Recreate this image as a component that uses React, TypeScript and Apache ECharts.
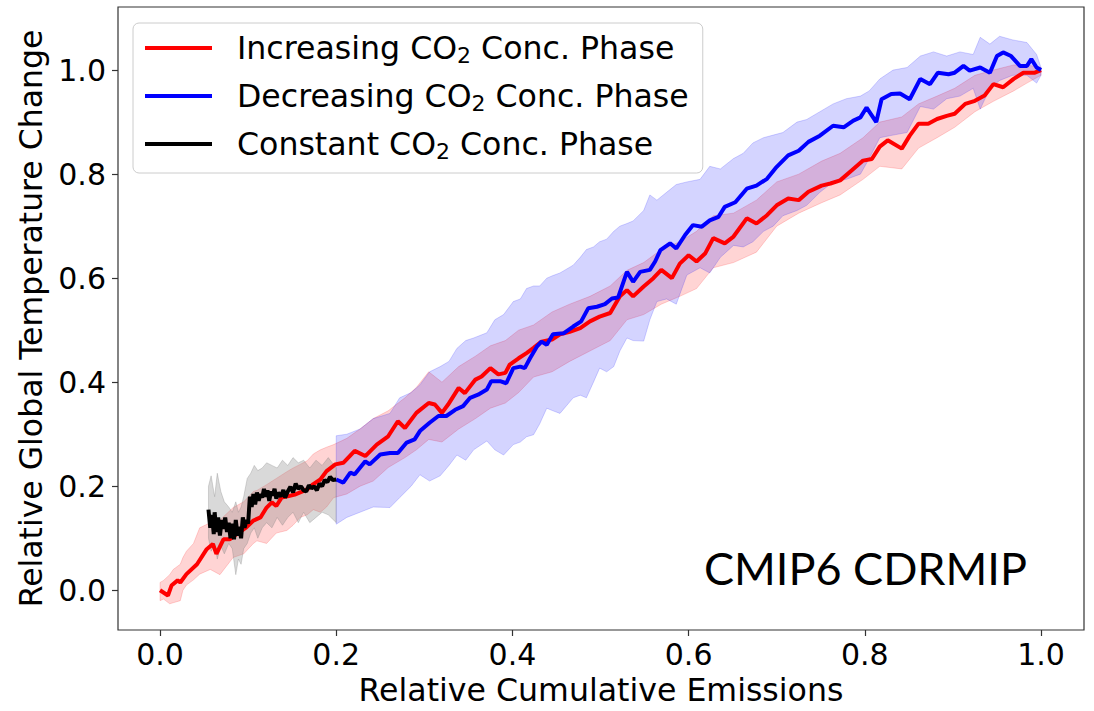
import React, { useEffect, useRef } from "react";
import * as echarts from "echarts";

// ---- data (x = relative cumulative emissions, y = relative temperature change) ----
const increasing: [number, number][] = [
  [0.000, 0.000], [0.009, -0.010], [0.013, 0.009], [0.020, 0.019], [0.023, 0.015], [0.030, 0.031],
  [0.042, 0.050], [0.053, 0.079], [0.060, 0.089], [0.064, 0.070], [0.072, 0.098], [0.079, 0.098],
  [0.087, 0.108], [0.098, 0.121], [0.106, 0.134], [0.114, 0.140], [0.121, 0.159], [0.127, 0.169],
  [0.132, 0.162], [0.138, 0.178], [0.146, 0.181], [0.153, 0.184], [0.159, 0.188], [0.167, 0.194],
  [0.174, 0.204], [0.182, 0.213], [0.189, 0.229], [0.199, 0.242], [0.208, 0.245], [0.221, 0.268],
  [0.233, 0.258], [0.246, 0.280], [0.259, 0.296], [0.270, 0.325], [0.278, 0.312], [0.291, 0.341],
  [0.305, 0.360], [0.312, 0.357], [0.320, 0.341], [0.327, 0.357], [0.339, 0.389], [0.346, 0.379],
  [0.358, 0.405], [0.365, 0.411], [0.375, 0.427], [0.384, 0.415], [0.392, 0.418], [0.397, 0.434],
  [0.407, 0.446], [0.416, 0.456], [0.424, 0.466], [0.433, 0.478], [0.445, 0.482], [0.454, 0.492],
  [0.465, 0.497], [0.477, 0.504], [0.488, 0.517], [0.499, 0.526], [0.511, 0.533], [0.522, 0.565],
  [0.530, 0.577], [0.537, 0.565], [0.549, 0.584], [0.560, 0.600], [0.569, 0.616], [0.581, 0.600],
  [0.590, 0.628], [0.600, 0.644], [0.609, 0.632], [0.619, 0.648], [0.628, 0.677], [0.641, 0.667],
  [0.651, 0.680], [0.666, 0.715], [0.677, 0.705], [0.689, 0.721], [0.700, 0.740], [0.713, 0.753],
  [0.725, 0.750], [0.736, 0.766], [0.751, 0.778], [0.761, 0.782], [0.772, 0.788], [0.785, 0.807],
  [0.798, 0.826], [0.808, 0.829], [0.817, 0.853], [0.826, 0.865], [0.842, 0.849], [0.851, 0.874],
  [0.861, 0.897], [0.872, 0.897], [0.882, 0.906], [0.893, 0.912], [0.902, 0.916], [0.914, 0.935],
  [0.925, 0.941], [0.936, 0.951], [0.946, 0.973], [0.957, 0.967], [0.969, 0.983], [0.980, 0.995],
  [0.993, 0.995], [1.000, 1.000],
];

const decreasing: [number, number][] = [
  [0.200, 0.213], [0.208, 0.207], [0.216, 0.226], [0.221, 0.223], [0.233, 0.248], [0.238, 0.242],
  [0.250, 0.261], [0.261, 0.264], [0.270, 0.264], [0.280, 0.284], [0.289, 0.290], [0.295, 0.306],
  [0.306, 0.322], [0.316, 0.335], [0.325, 0.335], [0.335, 0.347], [0.344, 0.354], [0.352, 0.370],
  [0.361, 0.376], [0.371, 0.386], [0.376, 0.402], [0.386, 0.402], [0.393, 0.398], [0.401, 0.427],
  [0.409, 0.430], [0.414, 0.427], [0.420, 0.446], [0.428, 0.469], [0.433, 0.478], [0.439, 0.472],
  [0.446, 0.492], [0.458, 0.494], [0.469, 0.507], [0.478, 0.517], [0.486, 0.542], [0.496, 0.545],
  [0.505, 0.550], [0.513, 0.561], [0.520, 0.563], [0.530, 0.612], [0.537, 0.593], [0.545, 0.612],
  [0.556, 0.616], [0.562, 0.632], [0.568, 0.654], [0.579, 0.667], [0.586, 0.657], [0.596, 0.683],
  [0.605, 0.702], [0.615, 0.699], [0.624, 0.711], [0.634, 0.718], [0.641, 0.737], [0.653, 0.746],
  [0.666, 0.772], [0.677, 0.778], [0.689, 0.791], [0.700, 0.814], [0.713, 0.836], [0.725, 0.845],
  [0.736, 0.862], [0.749, 0.874], [0.764, 0.893], [0.776, 0.890], [0.787, 0.903], [0.795, 0.909],
  [0.802, 0.928], [0.813, 0.900], [0.819, 0.944], [0.830, 0.954], [0.840, 0.955], [0.851, 0.944],
  [0.863, 0.983], [0.874, 0.973], [0.883, 0.995], [0.895, 0.992], [0.902, 0.995], [0.912, 1.008],
  [0.919, 0.999], [0.931, 1.005], [0.942, 0.995], [0.950, 1.027], [0.957, 1.034], [0.966, 1.027],
  [0.976, 1.008], [0.984, 1.008], [0.989, 1.021], [0.995, 1.005], [1.000, 1.000],
];

const constant: [number, number][] = [
  [0.055, 0.155], [0.057, 0.120], [0.059, 0.145], [0.061, 0.108], [0.062, 0.150], [0.064, 0.112],
  [0.066, 0.140], [0.068, 0.105], [0.070, 0.135], [0.072, 0.118], [0.074, 0.140], [0.076, 0.112],
  [0.078, 0.130], [0.080, 0.100], [0.082, 0.128], [0.084, 0.098], [0.086, 0.135], [0.088, 0.105],
  [0.090, 0.122], [0.092, 0.100], [0.094, 0.140], [0.096, 0.120], [0.098, 0.135], [0.100, 0.128],
  [0.102, 0.180], [0.104, 0.160], [0.106, 0.185], [0.108, 0.165], [0.110, 0.188], [0.112, 0.172],
  [0.114, 0.185], [0.116, 0.178], [0.118, 0.195], [0.120, 0.180], [0.122, 0.192], [0.124, 0.172],
  [0.126, 0.190], [0.128, 0.182], [0.130, 0.195], [0.132, 0.176], [0.134, 0.188], [0.137, 0.180],
  [0.140, 0.193], [0.142, 0.178], [0.145, 0.190], [0.148, 0.199], [0.151, 0.188], [0.154, 0.205],
  [0.157, 0.195], [0.160, 0.200], [0.163, 0.192], [0.166, 0.190], [0.169, 0.202], [0.172, 0.196],
  [0.175, 0.200], [0.178, 0.192], [0.181, 0.205], [0.184, 0.200], [0.187, 0.212], [0.190, 0.208],
  [0.193, 0.218], [0.196, 0.212], [0.200, 0.213],
];

// spread bands: [x, lower, upper]
const increasingBand: [number, number, number][] = [
  [0.000, -0.020, 0.015], [0.004, -0.017, 0.019], [0.011, -0.026, 0.030], [0.015, -0.024, 0.040],
  [0.023, -0.020, 0.050], [0.026, 0.000, 0.063], [0.030, 0.010, 0.075], [0.038, 0.020, 0.090],
  [0.045, 0.031, 0.120], [0.057, 0.040, 0.130], [0.068, 0.030, 0.135], [0.083, 0.063, 0.159],
  [0.095, 0.070, 0.170], [0.106, 0.090, 0.190], [0.110, 0.095, 0.192], [0.121, 0.090, 0.203],
  [0.132, 0.110, 0.215], [0.144, 0.115, 0.228], [0.151, 0.125, 0.235], [0.159, 0.140, 0.242],
  [0.167, 0.145, 0.249], [0.174, 0.155, 0.262], [0.182, 0.150, 0.270], [0.189, 0.160, 0.275],
  [0.197, 0.178, 0.280], [0.212, 0.185, 0.292], [0.227, 0.200, 0.310], [0.242, 0.210, 0.330],
  [0.259, 0.236, 0.345], [0.278, 0.255, 0.370], [0.291, 0.270, 0.390], [0.305, 0.290, 0.420],
  [0.320, 0.285, 0.400], [0.339, 0.310, 0.430], [0.358, 0.330, 0.450], [0.375, 0.350, 0.470],
  [0.392, 0.360, 0.480], [0.407, 0.380, 0.500], [0.424, 0.410, 0.510], [0.445, 0.420, 0.535],
  [0.465, 0.440, 0.550], [0.488, 0.460, 0.565], [0.511, 0.480, 0.585], [0.530, 0.520, 0.615],
  [0.549, 0.530, 0.630], [0.569, 0.550, 0.655], [0.590, 0.565, 0.670], [0.609, 0.580, 0.690],
  [0.628, 0.620, 0.720], [0.651, 0.630, 0.725], [0.677, 0.650, 0.750], [0.700, 0.700, 0.785],
  [0.725, 0.725, 0.800], [0.751, 0.745, 0.825], [0.772, 0.760, 0.840], [0.798, 0.790, 0.870],
  [0.817, 0.815, 0.900], [0.842, 0.810, 0.910], [0.861, 0.850, 0.935], [0.882, 0.870, 0.950],
  [0.902, 0.890, 0.965], [0.925, 0.920, 0.990], [0.946, 0.940, 1.000], [0.969, 0.960, 1.010],
  [0.984, 0.975, 1.010], [1.000, 0.990, 1.005],
];

const decreasingBand: [number, number, number][] = [
  [0.200, 0.127, 0.297], [0.212, 0.140, 0.300], [0.227, 0.150, 0.310], [0.242, 0.160, 0.330],
  [0.261, 0.159, 0.340], [0.272, 0.178, 0.370], [0.285, 0.200, 0.380], [0.295, 0.222, 0.395],
  [0.306, 0.210, 0.420], [0.318, 0.220, 0.430], [0.328, 0.240, 0.440], [0.337, 0.260, 0.465],
  [0.347, 0.250, 0.480], [0.356, 0.270, 0.485], [0.371, 0.287, 0.495], [0.380, 0.270, 0.520],
  [0.390, 0.260, 0.530], [0.401, 0.280, 0.555], [0.409, 0.285, 0.560], [0.416, 0.295, 0.580],
  [0.424, 0.299, 0.585], [0.431, 0.320, 0.585], [0.439, 0.350, 0.600], [0.446, 0.345, 0.605],
  [0.454, 0.340, 0.610], [0.469, 0.370, 0.625], [0.477, 0.375, 0.640], [0.484, 0.370, 0.655],
  [0.492, 0.400, 0.660], [0.499, 0.427, 0.670], [0.507, 0.420, 0.675], [0.515, 0.430, 0.690],
  [0.522, 0.460, 0.700], [0.530, 0.485, 0.705], [0.537, 0.480, 0.710], [0.549, 0.479, 0.730],
  [0.556, 0.520, 0.760], [0.564, 0.555, 0.750], [0.575, 0.560, 0.765], [0.586, 0.550, 0.780],
  [0.598, 0.606, 0.785], [0.613, 0.620, 0.790], [0.624, 0.610, 0.815], [0.636, 0.640, 0.810],
  [0.651, 0.663, 0.830], [0.662, 0.660, 0.840], [0.673, 0.670, 0.860], [0.685, 0.690, 0.870],
  [0.696, 0.700, 0.875], [0.707, 0.720, 0.880], [0.723, 0.730, 0.900], [0.734, 0.740, 0.905],
  [0.749, 0.765, 0.920], [0.764, 0.785, 0.935], [0.779, 0.790, 0.945], [0.795, 0.800, 0.950],
  [0.805, 0.830, 0.960], [0.817, 0.870, 0.983], [0.832, 0.875, 1.000], [0.848, 0.880, 1.005],
  [0.863, 0.930, 1.027], [0.878, 0.925, 1.035], [0.893, 0.945, 1.027], [0.908, 0.950, 1.035],
  [0.923, 0.965, 1.030], [0.931, 0.925, 1.063], [0.942, 0.965, 1.050], [0.953, 0.980, 1.065],
  [0.968, 0.990, 1.058], [0.984, 0.990, 1.053], [0.995, 0.975, 1.030], [1.000, 0.990, 1.005],
];

const constantBand: [number, number, number][] = [
  [0.055, 0.100, 0.200], [0.058, 0.075, 0.220], [0.062, 0.090, 0.180], [0.065, 0.060, 0.225],
  [0.069, 0.085, 0.190], [0.073, 0.070, 0.170], [0.078, 0.090, 0.160], [0.082, 0.080, 0.150],
  [0.086, 0.030, 0.170], [0.089, 0.060, 0.150], [0.092, 0.050, 0.160], [0.095, 0.080, 0.180],
  [0.099, 0.090, 0.215], [0.103, 0.110, 0.225], [0.107, 0.120, 0.240], [0.111, 0.100, 0.230],
  [0.116, 0.120, 0.235], [0.121, 0.130, 0.245], [0.127, 0.120, 0.240], [0.133, 0.140, 0.235],
  [0.139, 0.125, 0.250], [0.145, 0.140, 0.240], [0.151, 0.150, 0.255], [0.157, 0.130, 0.245],
  [0.163, 0.150, 0.250], [0.170, 0.130, 0.235], [0.177, 0.140, 0.250], [0.184, 0.150, 0.240],
  [0.191, 0.145, 0.255], [0.200, 0.130, 0.235],
];

const xTicks = [0, 0.2, 0.4, 0.6, 0.8, 1.0];
const yTicks = [0, 0.2, 0.4, 0.6, 0.8, 1.0];
const seriesNames = [
  "Increasing CO2 Conc. Phase",
  "Decreasing CO2 Conc. Phase",
  "Constant CO2 Conc. Phase",
];
const xTitle = "Relative Cumulative Emissions";
const yTitle = "Relative Global Temperature Change";
const annotation = "CMIP6 CDRMIP";

const FONT = "DejaVu Sans";

function bandSeries(band: [number, number, number][], fill: string, stroke: string) {
  return {
    type: "custom",
    silent: true,
    z: 1,
    clip: true,
    data: band,
    encode: { x: 0, y: [1, 2] },
    renderItem: (params: any, api: any) => {
      if (params.dataIndex !== 0) return undefined;
      const pts: number[][] = [];
      for (let i = 0; i < band.length; i++) pts.push(api.coord([band[i][0], band[i][2]]));
      for (let i = band.length - 1; i >= 0; i--) pts.push(api.coord([band[i][0], band[i][1]]));
      return {
        type: "polygon",
        shape: { points: pts },
        style: { fill, stroke, lineWidth: 1 },
      };
    },
  };
}

export default function App() {
  const ref = useRef<HTMLDivElement>(null);
  useEffect(() => {
    if (!ref.current) return;
    const chart = echarts.init(ref.current, null, { renderer: "svg" });
    const axisColor = "#333";
    chart.setOption({
      animation: false,
      backgroundColor: "#fff",
      grid: {
        left: 118, right: 10, top: 7, bottom: 77,
        show: true, borderColor: axisColor, borderWidth: 1.2, backgroundColor: "transparent",
      },
      xAxis: {
        type: "value",
        min: -0.0477,
        max: 1.0488,
        name: xTitle,
        nameLocation: "middle",
        nameGap: 44,
        nameTextStyle: { fontFamily: FONT, fontSize: 31.6, color: "#000" },
        axisLine: { show: false, onZero: false },
        splitLine: { show: false },
        axisTick: { show: true, inside: false, customValues: xTicks, length: 6, lineStyle: { color: axisColor, width: 1.2 } },
        axisLabel: {
          customValues: xTicks,
          formatter: (v: number) => v.toFixed(1),
          fontFamily: FONT, fontSize: 30, color: "#000", margin: 9,
        },
      },
      yAxis: {
        type: "value",
        min: -0.0764,
        max: 1.1213,
        name: yTitle,
        nameLocation: "middle",
        nameGap: 68,
        nameRotate: 90,
        nameTextStyle: { fontFamily: FONT, fontSize: 31.5, color: "#000" },
        axisLine: { show: false, onZero: false },
        splitLine: { show: false },
        axisTick: { show: true, inside: false, customValues: yTicks, length: 6, lineStyle: { color: axisColor, width: 1.2 } },
        axisLabel: {
          customValues: yTicks,
          formatter: (v: number) => v.toFixed(1),
          fontFamily: FONT, fontSize: 30, color: "#000", margin: 12,
        },
      },
      legend: {
        orient: "vertical",
        left: 133,
        top: 23,
        padding: [7, 14, 11, 12],
        itemGap: 12,
        itemWidth: 67,
        itemHeight: 4,
        icon: "rect",
        backgroundColor: "rgba(255,255,255,0.85)",
        borderColor: "#cccccc",
        borderWidth: 1,
        borderRadius: 6,
        data: seriesNames,
        formatter: (name: string) => {
          const parts = name.split("CO2");
          return `{gap| }${parts[0]}CO{sub|2}${parts[1]}`;
        },
        textStyle: {
          fontFamily: FONT,
          fontSize: 31.6,
          lineHeight: 36,
          color: "#000",
          rich: {
            gap: { width: 20, fontSize: 31.6, lineHeight: 36 },
            sub: { fontFamily: FONT, fontSize: 22, lineHeight: 12, verticalAlign: "bottom", color: "#000" },
          },
        },
      },
      graphic: [
        {
          type: "text",
          left: 704,
          top: 545,
          style: {
            text: annotation,
            fontFamily: "Lato",
            fontSize: 45,
            fill: "#000",
          },
          z: 10,
        },
      ],
      series: [
        bandSeries(increasingBand, "rgba(255,0,0,0.17)", "rgba(255,0,0,0.17)"),
        bandSeries(decreasingBand, "rgba(0,0,255,0.17)", "rgba(0,0,255,0.17)"),
        bandSeries(constantBand, "rgba(128,128,128,0.30)", "rgba(128,128,128,0.30)"),
        {
          name: seriesNames[0], type: "line", data: increasing, showSymbol: false, symbol: "none",
          lineStyle: { color: "#ff0000", width: 4 }, itemStyle: { color: "#ff0000" }, z: 2,
        },
        {
          name: seriesNames[1], type: "line", data: decreasing, showSymbol: false, symbol: "none",
          lineStyle: { color: "#0000ff", width: 4 }, itemStyle: { color: "#0000ff" }, z: 3,
        },
        {
          name: seriesNames[2], type: "line", data: constant, showSymbol: false, symbol: "none",
          lineStyle: { color: "#000000", width: 4 }, itemStyle: { color: "#000000" }, z: 4,
        },
      ],
    });
    return () => chart.dispose();
  }, []);
  return (
    <div
      ref={ref}
      style={{ position: "fixed", left: 0, top: 0, width: 1094, height: 711, background: "#fff" }}
    />
  );
}
